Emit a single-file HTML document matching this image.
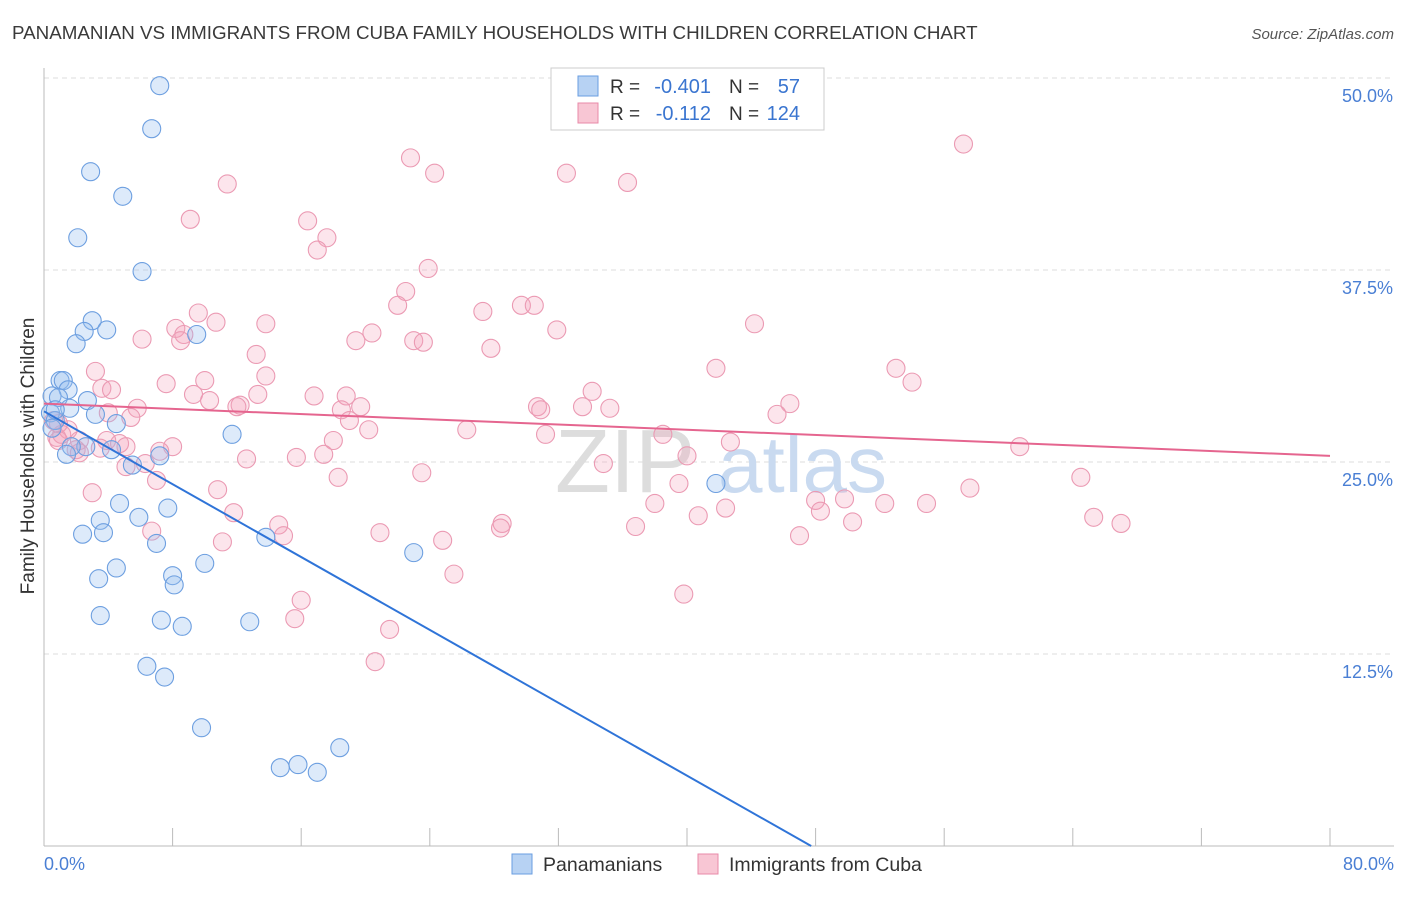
<!DOCTYPE html>
<html><head><meta charset="utf-8"><style>
body{margin:0;background:#fff;font-family:"Liberation Sans",sans-serif;}
svg text{font-family:"Liberation Sans",sans-serif;}
</style></head><body>
<svg id="chart" width="1406" height="892" viewBox="0 0 1406 892">
<text x="12" y="39" font-size="18.8" fill="#3a3a3a">PANAMANIAN VS IMMIGRANTS FROM CUBA FAMILY HOUSEHOLDS WITH CHILDREN CORRELATION CHART</text>
<text x="1394" y="39" font-size="15" fill="#555" font-style="italic" text-anchor="end">Source: ZipAtlas.com</text>
<g id="grid"></g>
<text x="555" y="492" font-size="90" fill="#ddd" font-family="Liberation Serif">ZIP</text>
<text x="718" y="492" font-size="80" fill="#c9daf0">atlas</text>
<g id="pts"></g>
<g id="lines"></g>
<text transform="translate(34,456) rotate(-90)" font-size="19" fill="#333" text-anchor="middle">Family Households with Children</text>
<text x="44" y="870" font-size="18" fill="#4a7fd4">0.0%</text>
<text x="1394" y="870" font-size="18" fill="#4a7fd4" text-anchor="end">80.0%</text>
<g>
<rect x="551" y="68" width="273" height="62" fill="#fff" stroke="#ccc"/>
<rect x="578" y="76" width="20" height="20" fill="#b7d2f3" stroke="#6a9ee0"/>
<rect x="578" y="103" width="20" height="20" fill="#f8c6d4" stroke="#e88aa8"/>
<text x="610" y="93" font-size="19" fill="#333">R =</text>
<text x="711" y="93" font-size="20" fill="#3a75d0" text-anchor="end">-0.401</text>
<text x="729" y="93" font-size="19" fill="#333">N =</text>
<text x="800" y="93" font-size="20" fill="#3a75d0" text-anchor="end">57</text>
<text x="610" y="120" font-size="19" fill="#333">R =</text>
<text x="711" y="120" font-size="20" fill="#3a75d0" text-anchor="end">-0.112</text>
<text x="729" y="120" font-size="19" fill="#333">N =</text>
<text x="800" y="120" font-size="20" fill="#3a75d0" text-anchor="end">124</text>
</g>
<g>
<rect x="512" y="854" width="20" height="20" fill="#b7d2f3" stroke="#6a9ee0"/>
<text x="543" y="871" font-size="19.5" fill="#333">Panamanians</text>
<rect x="698" y="854" width="20" height="20" fill="#f8c6d4" stroke="#e88aa8"/>
<text x="729" y="871" font-size="19.5" fill="#333">Immigrants from Cuba</text>
</g>
</svg>
<script>
const yTicks=[12.5,25,37.5,50];
const yTickLabels=["12.5%","25.0%","37.5%","50.0%"];
const blueX=[7.2,6.7,2.9,4.9,2.1,6.1,3.0,3.9,2.5,2.0,9.5,1.0,1.2,1.5,0.5,0.9,2.7,1.6,3.2,0.4,0.7,4.5,11.7,0.5,2.6,1.7,1.4,4.2,5.5,7.2,4.7,7.7,5.9,3.5,2.4,3.7,13.8,7.0,23.0,3.4,4.5,8.0,10.0,8.1,3.5,7.3,8.6,12.8,6.4,7.5,9.8,14.7,15.8,17.0,18.4,41.8,0.7];
const blueY=[49.5,46.7,43.9,42.3,39.6,37.4,34.2,33.6,33.5,32.7,33.3,30.3,30.3,29.7,29.3,29.2,29.0,28.5,28.1,28.2,27.7,27.5,26.8,27.2,26.0,26.0,25.5,25.8,24.8,25.4,22.3,22.0,21.4,21.2,20.3,20.4,20.1,19.7,19.1,17.4,18.1,17.6,18.4,17.0,15.0,14.7,14.3,14.6,11.7,11.0,7.7,5.1,5.3,4.8,6.4,23.6,28.4];
const pinkX=[57.2,22.8,24.3,32.5,36.3,11.4,9.1,16.4,17.6,17.0,23.9,22.5,22.0,29.7,30.5,27.3,9.6,10.7,13.8,44.2,31.9,8.2,8.7,8.5,20.4,19.4,23.0,23.6,27.8,6.1,13.2,3.2,13.8,41.8,53.0,54.0,10.0,7.6,3.6,4.2,34.1,9.3,10.3,13.3,18.8,16.8,5.8,12.2,12.0,46.4,45.6,30.7,30.9,33.5,35.2,19.7,18.5,5.4,19.0,20.2,26.3,31.2,38.5,42.7,18.0,3.9,0.8,1.1,1.5,2.2,4.7,5.1,2.0,3.5,2.2,8.0,7.2,12.6,17.4,15.7,60.7,40.0,5.1,6.3,34.8,23.5,18.3,7.0,39.5,64.5,57.6,3.0,10.8,38.0,48.0,49.8,52.3,54.9,42.4,40.7,48.3,11.8,50.3,65.3,67.0,36.8,28.5,28.4,14.6,14.9,20.9,6.7,11.1,24.8,47.0,25.5,39.8,16.0,15.6,21.5,20.6,0.9,0.6,4.0,0.9];
const pinkY=[45.7,44.8,43.8,43.8,43.2,43.1,40.8,40.7,39.6,38.8,37.6,36.1,35.2,35.2,35.2,34.8,34.7,34.1,34.0,34.0,33.6,33.7,33.3,32.9,33.4,32.9,32.9,32.8,32.4,33.0,32.0,30.9,30.6,31.1,31.1,30.2,30.3,30.1,29.8,29.7,29.6,29.4,29.0,29.4,29.3,29.3,28.5,28.7,28.6,28.8,28.1,28.6,28.4,28.6,28.5,28.6,28.4,27.9,27.7,27.1,27.1,26.8,26.8,26.3,26.4,26.4,26.6,26.8,27.1,26.4,26.2,26.0,25.8,25.9,25.6,26.0,25.7,25.2,25.5,25.3,26.0,25.4,24.7,24.9,24.9,24.3,24.0,23.8,23.6,24.0,23.3,23.0,23.2,22.3,22.5,22.6,22.3,22.3,22.0,21.5,21.8,21.7,21.1,21.4,21.0,20.8,21.0,20.7,20.9,20.2,20.4,20.5,19.8,19.9,20.2,17.7,16.4,16.0,14.8,14.1,12.0,27.5,27.7,28.2,26.4];
const blueTrend=[28.3,-0.593];
const pinkTrend=[28.8,-0.0425];
const NS="http://www.w3.org/2000/svg";
const X0=44,X1=1330,Y0=846,Y1=78;
function xs(v){return X0+v/80*(X1-X0);}
function ys(v){return Y0-v/50*(Y0-Y1);}
function mk(t,a,p){const e=document.createElementNS(NS,t);for(const k in a)e.setAttribute(k,a[k]);p.appendChild(e);return e;}
const grid=document.getElementById('grid');
yTicks.forEach((t,i)=>{
 const l=mk('line',{x1:X0,x2:1394,y1:ys(t),y2:ys(t),stroke:'#ddd','stroke-dasharray':'5,4'},grid);
 
 
 const tx=mk('text',{x:1393,y:ys(t)+24,'font-size':18,fill:'#4a7fd4','text-anchor':'end'},grid);
 tx.textContent=yTickLabels[i];
 
 
});
const ax=mk('line',{x1:X0,x2:X0,y1:68,y2:Y0,stroke:'#bbb'},grid);


const bx=mk('line',{x1:X0,x2:1394,y1:Y0,y2:Y0,stroke:'#bbb'},grid);


for(let i=0;i<=10;i++){
 const t=mk('line',{x1:xs(i*8),x2:xs(i*8),y1:Y0,y2:Y0-18,stroke:'#bbb'},grid);
 
 
}
const pts=document.getElementById('pts');
pinkX.forEach((v,i)=>{
 const c=mk('circle',{cx:xs(v),cy:ys(pinkY[i]),r:9,fill:'rgba(244,160,186,0.28)',stroke:'#eb9ab3','stroke-width':1.1},pts);
 
 
});
blueX.forEach((v,i)=>{
 const c=mk('circle',{cx:xs(v),cy:ys(blueY[i]),r:9,fill:'rgba(150,190,240,0.32)',stroke:'#6d9fe0','stroke-width':1.1},pts);
 
 
});
const lines=document.getElementById('lines');
const bEnd=-blueTrend[0]/blueTrend[1];
const bl=mk('line',{x1:xs(0),y1:ys(blueTrend[0]),x2:xs(bEnd),y2:ys(0),stroke:'#2f74d8','stroke-width':2},lines);


const pl=mk('line',{x1:xs(0),y1:ys(pinkTrend[0]),x2:xs(80),y2:ys(pinkTrend[0]+pinkTrend[1]*80),stroke:'#e5658f','stroke-width':2},lines);


</script>
</body></html>
